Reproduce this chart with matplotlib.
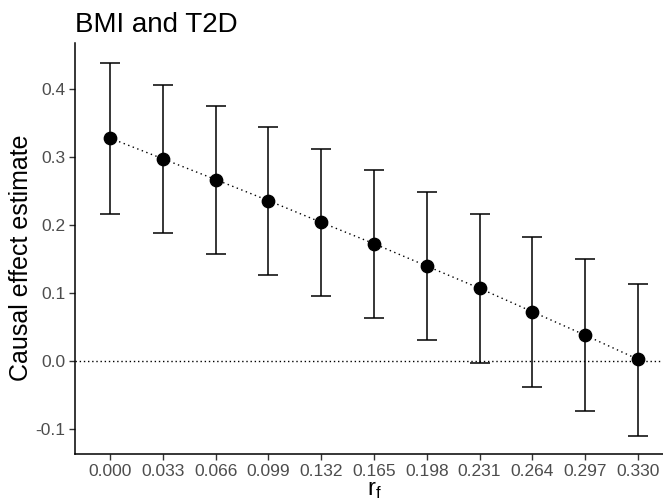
import matplotlib
matplotlib.use('Agg')
import matplotlib.pyplot as plt

plt.rcParams['font.family'] = ['Liberation Sans', 'DejaVu Sans']

rf = [0.000, 0.033, 0.066, 0.099, 0.132, 0.165, 0.198, 0.231, 0.264, 0.297, 0.330]
estimate = [0.328, 0.2975, 0.267, 0.236, 0.204, 0.1726, 0.1397, 0.107, 0.0725, 0.038, 0.0025]
lower = [0.2166, 0.189, 0.158, 0.127, 0.0956, 0.0637, 0.031, -0.0024, -0.0377, -0.073, -0.110]
upper = [0.439, 0.406, 0.375, 0.344, 0.312, 0.281, 0.249, 0.2166, 0.183, 0.1495, 0.1137]
tick_labels = ['0.000', '0.033', '0.066', '0.099', '0.132', '0.165',
               '0.198', '0.231', '0.264', '0.297', '0.330']

fig = plt.figure(figsize=(6.63, 5.01), dpi=100)
ax = fig.add_axes([0.1136, 0.0938, 0.901, 0.820])

ax.axhline(0, color='black', linestyle=(0, (1, 2)), linewidth=1, zorder=1)
ax.plot(rf, estimate, color='black', linestyle=(0, (1, 2.5)), linewidth=1, zorder=2)

err_lo = [e - l for e, l in zip(estimate, lower)]
err_hi = [u - e for u, e in zip(upper, estimate)]
ax.errorbar(rf, estimate, yerr=[err_lo, err_hi], fmt='none', ecolor='black',
            elinewidth=1.1, capsize=7.5, capthick=1.1, zorder=3)
ax.plot(rf, estimate, 'o', color='black', markersize=8.9, zorder=4)

ax.set_xlim(-0.0217, 0.3517)
ax.set_ylim(-0.1368, 0.4676)
ax.set_xticks(rf)
ax.set_xticklabels(tick_labels)
ax.set_yticks([-0.1, 0.0, 0.1, 0.2, 0.3, 0.4])
ax.set_yticklabels(['-0.1', '0.0', '0.1', '0.2', '0.3', '0.4'])

for s in ['top', 'right']:
    ax.spines[s].set_visible(False)
for s in ['left', 'bottom']:
    ax.spines[s].set_linewidth(1.1)
    ax.spines[s].set_color('black')

ax.tick_params(axis='both', direction='out', length=4, width=1, color='#333333',
               labelsize=12.5, labelcolor='#4D4D4D', pad=3)

ax.set_ylabel('Causal effect estimate', fontsize=18)
ax.yaxis.set_label_coords(-0.071, 0.477)
ax.set_xlabel(r'$\mathregular{r_f}$', fontsize=17, labelpad=0)
ax.set_title('BMI and T2D', fontsize=20, loc='left', pad=8)

fig.savefig('out.png', dpi=100)
